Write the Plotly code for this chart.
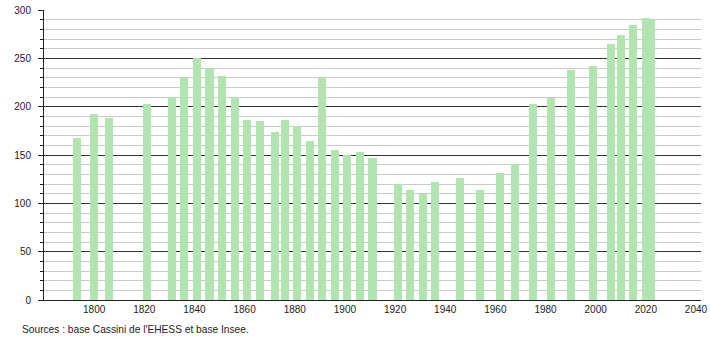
import plotly.graph_objects as go

years = [1793, 1800, 1806, 1821, 1831, 1836, 1841, 1846, 1851, 1856,
         1861, 1866, 1872, 1876, 1881, 1886, 1891, 1896, 1901, 1906,
         1911, 1921, 1926, 1931, 1936, 1946, 1954, 1962, 1968, 1975,
         1982, 1990, 1999, 2006, 2010, 2015, 2020, 2022]
population = [168, 192, 188, 203, 210, 230, 250, 240, 232, 210,
              186, 185, 174, 186, 180, 164, 231, 155, 150, 153,
              147, 120, 114, 110, 122, 126, 114, 131, 141, 203,
              209, 238, 242, 265, 274, 284, 292, 290]

x_tickvals = [1800, 1820, 1840, 1860, 1880, 1900, 1920, 1940, 1960, 1980, 2000, 2020, 2040]
y_tickvals = [0, 50, 100, 150, 200, 250, 300]
source_text = "Sources : base Cassini de l'EHESS et base Insee."

fig = go.Figure()
fig.add_trace(go.Bar(
    x=years, y=population, width=3.2,
    marker=dict(color="rgb(178,228,178)", line=dict(width=0)),
    hoverinfo="x+y",
))

fig.update_layout(
    width=710, height=340,
    margin=dict(l=44, r=9, t=10, b=40, autoexpand=False),
    paper_bgcolor="white", plot_bgcolor="white",
    font=dict(family="Liberation Sans, Arial, sans-serif", size=10, color="#222"),
    showlegend=False,
    bargap=0,
    annotations=[dict(
        text=source_text, xref="paper", yref="paper",
        x=-24 / 657, y=-0.10, xanchor="left", yanchor="middle",
        showarrow=False, font=dict(size=10.2, color="#222"),
    )],
)

fig.update_xaxes(
    range=[1780, 2042], tickvals=x_tickvals, ticks="",
    showgrid=False, showline=True, linecolor="#222", linewidth=1,
    zeroline=False, automargin=False,
)
fig.update_yaxes(
    range=[0, 300], tickvals=y_tickvals, ticks="outside", ticklen=5,
    tickcolor="#222", showline=True, linecolor="#222", linewidth=1,
    showgrid=True, gridcolor="#333", gridwidth=1, zeroline=False,
    automargin=False, ticklabelstandoff=5,
    minor=dict(dtick=10, showgrid=True, gridcolor="#c8c8c8", gridwidth=1,
               ticks="outside", ticklen=3, tickcolor="#222"),
)

fig.write_html("out.html")
